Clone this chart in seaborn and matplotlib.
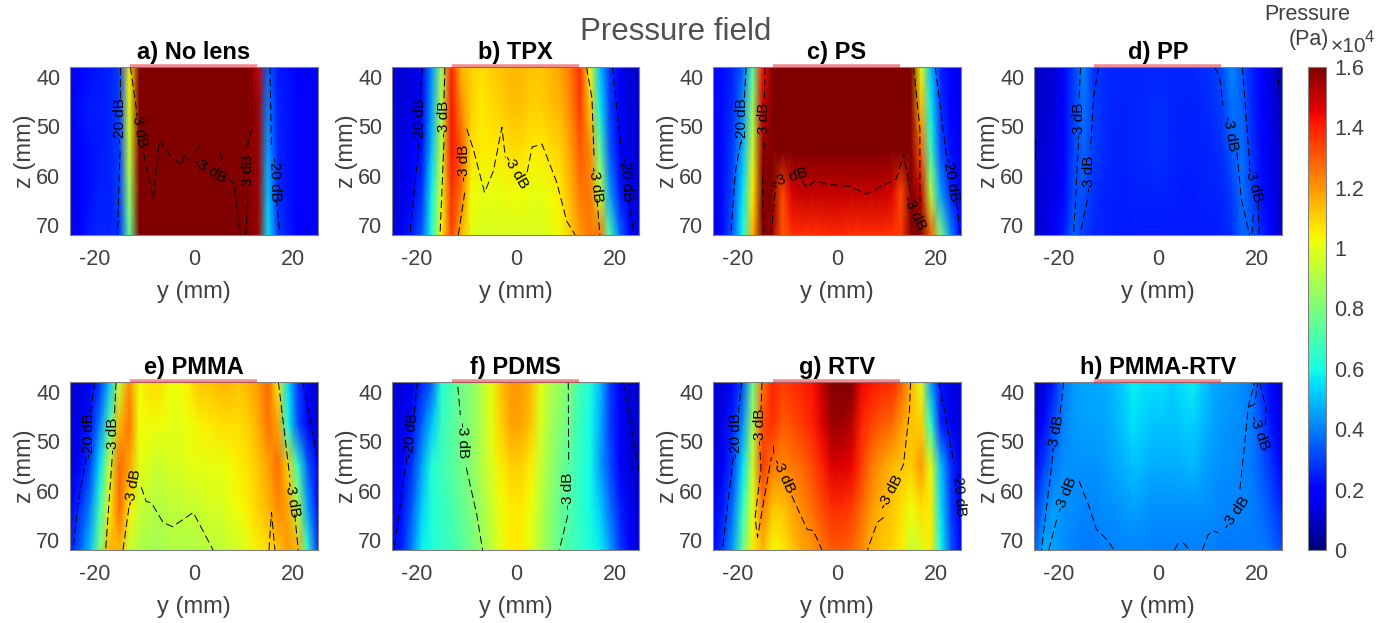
import numpy as np
import matplotlib
matplotlib.use("Agg")
import matplotlib.pyplot as plt
import seaborn as sns

sns.set_style("white")
plt.rcParams['font.family'] = ['Liberation Sans', 'DejaVu Sans']

# field samples in 1e4 Pa, columns y = -25..25 every 2 mm, rows z = 38, 46.5, 55, 63.5, 72
y_mm = [-25, -23, -21, -19, -17, -15, -13, -11, -9, -7, -5, -3, -1, 1, 3, 5, 7, 9, 11, 13, 15, 17, 19, 21, 23, 25]
z_mm = [38, 46.5, 55, 63.5, 72]

field_a = [
    [.18, .19, .22, .24, .25, .30, 1.05, 2.6, 2, 2, 2, 2, 2, 2, 2, 2, 2, 2, 2.2, 1.50, .35, .24, .22, .20, .19, .18],
    [.20, .22, .24, .24, .25, .30, 1.00, 2.4, 2, 2, 2, 2, 2, 2, 2, 2, 2, 2, 2.2, 1.55, .40, .25, .23, .20, .20, .18],
    [.20, .20, .22, .24, .25, .30, .95, 2.2, 2, 2, 2, 2, 2, 2, 2, 2, 2, 2, 2.2, 1.55, .45, .26, .23, .20, .19, .18],
    [.18, .20, .22, .25, .25, .30, .85, 1.95, 2, 2, 2, 2, 2, 2, 2, 2, 2, 2, 2.2, 1.55, .50, .27, .23, .20, .18, .18],
    [.17, .20, .24, .26, .25, .28, .75, 1.75, 2, 2, 2, 2, 2, 2, 2, 2, 2, 2, 2.2, 1.55, .55, .30, .24, .20, .18, .18],
]
field_b = [
    [.12, .12, .13, .17, .42, .88, 1.40, 1.15, 1.10, 1.08, 1.10, 1.12, 1.15, 1.15, 1.12, 1.12, 1.15, 1.18, 1.25, 1.38, 1.00, .50, .28, .17, .12, .10],
    [.12, .13, .15, .20, .45, .92, 1.42, 1.22, 1.10, 1.06, 1.08, 1.10, 1.13, 1.13, 1.10, 1.10, 1.13, 1.15, 1.22, 1.35, 1.12, .58, .30, .18, .13, .10],
    [.12, .14, .17, .22, .50, .95, 1.42, 1.30, 1.08, 1.05, 1.06, 1.06, 1.08, 1.08, 1.05, 1.05, 1.08, 1.10, 1.18, 1.30, 1.22, .75, .34, .20, .14, .10],
    [.11, .15, .20, .28, .58, 1.00, 1.38, 1.25, 1.03, 1.01, 1.01, 1.01, 1.03, 1.03, 1.01, 1.01, 1.03, 1.06, 1.15, 1.25, 1.25, .95, .45, .24, .15, .11],
    [.10, .17, .24, .34, .62, 1.05, 1.35, 1.15, 1.01, .98, .98, .98, .98, .98, .98, .98, 1.00, 1.03, 1.10, 1.20, 1.25, 1.25, .70, .38, .20, .12],
]
field_c = [
    [.20, .22, .25, .35, .72, 1.42, 2.2, 2.2, 2.2, 2.2, 2.2, 2.2, 2.2, 2.2, 2.2, 2.2, 2.2, 2.2, 2.2, 2.2, 1.75, 1.00, .50, .25, .20, .15],
    [.20, .22, .27, .42, .85, 1.50, 2.2, 2.2, 2.2, 2.2, 2.2, 2.2, 2.2, 2.2, 2.2, 2.2, 2.2, 2.2, 2.2, 2.2, 1.85, 1.15, .58, .28, .20, .16],
    [.17, .22, .30, .48, .95, 1.55, 1.90, 1.65, 1.75, 1.80, 1.80, 1.80, 1.80, 1.80, 1.80, 1.80, 1.80, 1.80, 1.80, 1.65, 1.85, 1.30, .68, .32, .22, .16],
    [.15, .22, .32, .55, 1.05, 1.62, 1.70, 1.33, 1.48, 1.50, 1.50, 1.50, 1.50, 1.50, 1.50, 1.50, 1.50, 1.50, 1.48, 1.33, 1.70, 1.50, .90, .45, .26, .17],
    [.13, .22, .35, .60, 1.15, 1.65, 1.55, 1.30, 1.38, 1.38, 1.37, 1.38, 1.39, 1.39, 1.37, 1.38, 1.38, 1.38, 1.37, 1.36, 1.60, 1.70, 1.30, .80, .42, .20],
]
field_d = [
    [.10, .10, .12, .18, .30, .40, .28, .27, .26, .26, .26, .26, .26, .26, .26, .26, .26, .27, .28, .32, .42, .33, .25, .20, .13, .09],
    [.11, .11, .13, .18, .30, .38, .30, .27, .26, .25, .26, .26, .27, .27, .26, .25, .25, .26, .27, .30, .38, .36, .26, .20, .14, .09],
    [.11, .12, .14, .19, .31, .36, .30, .27, .25, .25, .26, .26, .27, .27, .26, .25, .25, .25, .26, .28, .34, .38, .28, .21, .15, .10],
    [.11, .13, .15, .21, .32, .33, .28, .26, .25, .24, .25, .25, .25, .25, .25, .24, .24, .25, .25, .26, .30, .38, .31, .22, .16, .10],
    [.12, .13, .17, .24, .36, .30, .26, .25, .24, .24, .24, .24, .24, .24, .24, .24, .24, .24, .24, .25, .27, .36, .35, .25, .17, .11],
]
field_e = [
    [.12, .13, .17, .28, .50, .95, 1.22, 1.03, 1.08, 1.08, 1.03, 1.02, 1.05, 1.12, 1.12, 1.15, 1.15, 1.12, 1.15, 1.20, 1.28, 1.05, .55, .30, .17, .10],
    [.12, .16, .23, .40, .72, 1.15, 1.25, 1.02, 1.03, 1.02, 1.00, 1.00, 1.02, 1.04, 1.05, 1.07, 1.08, 1.08, 1.10, 1.16, 1.26, 1.18, .60, .32, .18, .12],
    [.12, .20, .30, .55, .95, 1.28, 1.18, 1.00, .98, .95, .98, .98, 1.00, 1.00, 1.01, 1.01, 1.02, 1.05, 1.07, 1.12, 1.18, 1.27, 1.10, .65, .35, .18],
    [.18, .27, .40, .68, 1.05, 1.28, 1.05, .95, .92, .90, .93, .93, .95, .95, .97, .97, 1.00, 1.02, 1.05, 1.10, 1.15, 1.22, 1.18, .90, .45, .22],
    [.25, .35, .50, .80, 1.15, 1.15, .95, .90, .88, .88, .90, .90, .90, .90, .92, .92, .95, .97, 1.00, 1.05, 1.08, 1.12, 1.20, 1.15, .65, .30],
]
field_f = [
    [.12, .12, .15, .25, .35, .62, .70, .78, .82, .90, 1.00, 1.12, 1.20, 1.20, 1.15, 1.00, .90, .85, .80, .68, .62, .50, .30, .17, .12, .10],
    [.13, .16, .22, .35, .50, .66, .72, .78, .82, .90, 1.00, 1.10, 1.18, 1.18, 1.12, .98, .88, .82, .76, .66, .60, .48, .30, .18, .12, .10],
    [.15, .20, .28, .45, .62, .68, .72, .78, .82, .90, .98, 1.05, 1.10, 1.10, 1.05, .95, .85, .78, .72, .65, .60, .45, .32, .20, .13, .10],
    [.18, .22, .34, .52, .62, .66, .70, .75, .80, .87, .95, 1.02, 1.06, 1.06, 1.02, .92, .83, .76, .71, .65, .60, .52, .38, .25, .16, .11],
    [.20, .25, .40, .58, .62, .65, .68, .72, .78, .85, .92, 1.00, 1.05, 1.05, 1.00, .90, .82, .75, .70, .65, .62, .58, .45, .30, .20, .13],
]
field_g = [
    [.12, .13, .20, .32, .75, 1.25, 1.40, 1.35, 1.37, 1.40, 1.42, 1.50, 1.62, 1.62, 1.60, 1.45, 1.42, 1.40, 1.40, 1.30, 1.15, 1.00, .45, .22, .15, .12],
    [.12, .15, .25, .42, .88, 1.32, 1.38, 1.30, 1.32, 1.36, 1.40, 1.46, 1.56, 1.56, 1.52, 1.40, 1.34, 1.30, 1.28, 1.20, 1.12, 1.10, .65, .25, .17, .13],
    [.13, .18, .30, .55, .95, 1.35, 1.25, 1.22, 1.25, 1.28, 1.33, 1.40, 1.47, 1.47, 1.45, 1.35, 1.25, 1.20, 1.15, 1.12, 1.10, 1.20, 1.00, .50, .28, .15],
    [.16, .24, .38, .65, 1.00, 1.25, 1.12, 1.12, 1.18, 1.22, 1.27, 1.33, 1.38, 1.38, 1.35, 1.28, 1.20, 1.15, 1.12, 1.08, 1.02, 1.08, 1.05, .55, .30, .16],
    [.20, .30, .45, .75, 1.05, 1.15, 1.03, 1.05, 1.12, 1.17, 1.20, 1.25, 1.30, 1.30, 1.28, 1.22, 1.15, 1.12, 1.10, 1.05, .95, .98, 1.05, .60, .35, .18],
]
field_h = [
    [.10, .13, .24, .39, .44, .46, .46, .47, .49, .52, .58, .56, .55, .55, .52, .55, .58, .52, .47, .45, .44, .42, .39, .28, .19, .12],
    [.14, .21, .32, .41, .44, .45, .45, .46, .48, .51, .55, .53, .51, .51, .50, .52, .53, .49, .46, .44, .43, .42, .39, .32, .22, .15],
    [.19, .30, .39, .43, .43, .43, .43, .44, .46, .48, .50, .49, .47, .47, .47, .48, .49, .46, .44, .43, .42, .41, .39, .34, .28, .19],
    [.28, .39, .45, .43, .42, .41, .41, .42, .43, .44, .45, .44, .43, .43, .43, .43, .43, .43, .42, .41, .41, .41, .40, .37, .32, .26],
    [.35, .47, .45, .42, .40, .39, .39, .40, .40, .41, .41, .41, .40, .40, .40, .40, .40, .40, .40, .39, .39, .39, .39, .39, .37, .32],
]

titles = ["a) No lens", "b) TPX", "c) PS", "d) PP", "e) PMMA", "f) PDMS", "g) RTV", "h) PMMA-RTV"]
lens_span = [-12.8, 12.8]

# dashed contour pieces as (y, z) in mm
lines_a = [
    [(-15, 38), (-15, 45)], [(-14.9, 55), (-15.4, 72)],
    [(-12.8, 38), (-11.6, 46.4)],
    [(-10.1, 55.6), (-8.2, 64.7), (-6.9, 52.9), (-4.9, 55.8), (-2.5, 57.8), (-1.8, 55.9), (-1, 56.6)],
    [(1.2, 54), (.5, 54.9)], [(5.3, 55.3), (6.1, 58)],
    [(7, 60.7), (8.3, 61.7), (8.3, 63.4), (9.4, 72)],
    [(10.5, 72), (11, 64.7)], [(10.8, 54.2), (11.7, 50.5), (11.7, 38)],
    [(15.4, 38), (15.7, 54.6)], [(16.7, 64.7), (17.4, 72)],
]
lines_b = [
    [(-18.8, 38), (-19.5, 44.7)], [(-19.5, 53.2), (-21.4, 72)],
    [(-14.3, 38), (-14.5, 44.7)], [(-14.5, 53.2), (-15.3, 72)],
    [(-11.6, 72), (-10.2, 62.7)],
    [(-9.9, 50.5), (-8.5, 54.9), (-6.3, 63.4), (-4.5, 59), (-2.8, 50.2), (-2.1, 56.3)],
    [(2.3, 59.3), (3.3, 54.2), (5.3, 53.6), (8.3, 61.4), (10.3, 69.2), (12, 72)],
    [(14.3, 38), (15.4, 44.4), (15.8, 55.9)], [(16.4, 64.7), (17, 72)],
    [(19.5, 38), (19.8, 40.3), (21.5, 56.3)], [(22.8, 64.7), (23.9, 72)],
]
lines_c = [
    [(-18.3, 38), (-18.7, 44.7)], [(-19.4, 53.2), (-20.5, 59.3), (-21.4, 72)],
    [(-14.5, 38), (-14.6, 44.7)], [(-14.6, 53.2), (-15, 62), (-14.8, 70), (-14.5, 72)],
    [(-13.3, 72), (-12.3, 62), (-14.1, 62)],
    [(-7, 61), (-6, 62.4), (-4.4, 61), (-2, 61.7), (2.7, 62.2), (6, 63.7), (9.5, 61.9), (12, 60.7), (13.5, 55.6), (14.4, 60.7), (14.8, 63)],
    [(15.5, 38), (16.8, 50.5), (16.8, 66.8)],
    [(19.9, 38), (22.2, 56.3)], [(24.2, 65.4), (25, 72)],
]
lines_d = [
    [(-15.6, 38), (-15.9, 44.5)], [(-16, 53.3), (-17, 72)],
    [(-12, 38), (-12.9, 43.8), (-13.6, 54.6)], [(-14.2, 64.8), (-15.7, 72)],
    [(11.5, 38), (12.5, 40), (13.2, 45.8)], [(16, 55.3), (16.9, 64.8), (18.3, 70.9), (18.6, 72)],
    [(17.1, 38), (18.3, 54), (18.6, 58)], [(20.3, 65.5), (20.5, 72)], [(19.3, 67.9), (19, 72)],
    [(24.6, 38), (24.2, 44.1)], [(-24.7, 52.6), (-24.7, 57.4)],
]
lines_e = [
    [(-20, 38), (-20.9, 44.5)], [(-21.7, 53.2), (-23.4, 62.7), (-24.4, 72)],
    [(-15.7, 38), (-16, 44.5)], [(-16.5, 53.6), (-17.8, 72)],
    [(-14.3, 72), (-13, 62.7)],
    [(-10.6, 59.3), (-9.6, 62.2), (-8.6, 62.4), (-6.2, 66.4), (-4.3, 67.3), (-.1, 64.4), (3.9, 72)],
    [(15.2, 72), (15.7, 64.4), (16.4, 72)],
    [(17.1, 38), (19.4, 57.3)], [(20.4, 64.7), (21.1, 72)],
    [(22, 38), (24.8, 52.5)],
]
lines_f = [
    [(-19.9, 38), (-20.5, 44.5)], [(-22, 53.2), (-24.6, 72)],
    [(-11.7, 39), (-11.2, 44.7)], [(-10, 55.3), (-7.9, 64.7), (-6.7, 72)],
    [(10.6, 38), (10.7, 54.6)], [(10.5, 65), (8.8, 72)],
    [(21.7, 38), (24.9, 56)],
]
lines_g = [
    [(-19.2, 38), (-19.9, 44.7)], [(-20.9, 53.2), (-23.1, 72)],
    [(-15.1, 38), (-15.3, 43.7)], [(-15.5, 52.2), (-15.3, 55.6), (-16.5, 65.4), (-16, 69.5), (-15.1, 64.1), (-13.2, 53.2)],
    [(-12.8, 50.9), (-12.7, 53.2)],
    [(-9.1, 61), (-6, 67.8), (-4.7, 68.1), (-3, 72)],
    [(14.9, 38), (14.7, 43.7), (13.5, 54.6), (12.9, 56)], [(9.5, 65.4), (8.2, 66.4), (6.2, 72)],
    [(20.6, 38), (21.6, 43), (23.7, 54.6)],
]
lines_h = [
    [(-19, 38), (-19.8, 45)], [(-21.2, 53), (-23.5, 72)],
    [(-22, 72), (-20.2, 65)],
    [(-15.9, 58), (-13.8, 63.4), (-12.4, 67.8), (-10, 70.2), (-8.8, 72)],
    [(3.4, 72), (4.3, 70.2)], [(5.1, 70.5), (6.5, 72)],
    [(9, 72), (10.2, 68.9), (11.2, 68.1), (12.2, 68.5)],
    [(16.6, 59.7), (17.9, 47.2), (18.3, 43), (19.6, 38)],
    [(21.7, 46.7), (21.9, 43.4), (20.6, 38)], [(18.4, 43), (19.6, 42.5), (20.2, 38)],
]

# contour labels: text, y, z, rotation
labels_a = [("-20 dB", -14.8, 48.8, 90), ("-3 dB", -11, 50.5, -80), ("-3 dB", 3.2, 58.8, -32), ("-3 dB", 11, 59.5, 90), ("-20 dB", 16.4, 60.7, -88)]
labels_b = [("-20 dB", -19.3, 48.8, 90), ("-3 dB", -14.5, 48.5, 90), ("-3 dB", -10.4, 57.3, 90), ("-3 dB", -.1, 59.3, -60), ("-3 dB", 16.1, 61.7, -82), ("-20 dB", 22.2, 60.7, -85)]
labels_c = [("-20 dB", -19.2, 48.8, 90), ("-3 dB", -14.6, 48.8, 90), ("-3 dB", -9.4, 60.3, 18), ("-3 dB", 15.6, 67.5, -65), ("-20 dB", 23, 60.7, -80)]
labels_d = [("-3 dB", -15.9, 48.9, 90), ("-3 dB", -13.9, 59.7, 90), ("-3 dB", 14.6, 51.3, -80), ("-3 dB", 19.3, 61.8, -75)]
labels_e = [("-20 dB", -21.2, 48.8, 90), ("-3 dB", -16.3, 48.8, 90), ("-3 dB", -12.3, 59.3, 80), ("-3 dB", 19.8, 61.7, -80)]
labels_f = [("-20 dB", -21.2, 48.8, 85), ("-3 dB", -10.7, 49.8, -88), ("-3 dB", 10.6, 60, 90)]
labels_g = [("-20 dB", -20.4, 48.8, 90), ("-3 dB", -15.5, 47.1, 90), ("-3 dB", -10.8, 57, -65), ("-3 dB", 10.9, 60.3, 62), ("-20 dB", 24.7, 60.7, -85)]
labels_h = [("-3 dB", -20.5, 48.5, 80), ("-3 dB", -18.5, 60.7, 68), ("-3 dB", 15.9, 64.4, 55), ("-3 dB", 20.4, 48.2, -70)]

fields = [field_a, field_b, field_c, field_d, field_e, field_f, field_g, field_h]
all_lines = [lines_a, lines_b, lines_c, lines_d, lines_e, lines_f, lines_g, lines_h]
all_labels = [labels_a, labels_b, labels_c, labels_d, labels_e, labels_f, labels_g, labels_h]

W, H = 1392, 623
left_px = [70, 392, 713, 1034]
top_px = [67, 382]
panel_w, panel_h = 247.5, 168
text_col = '#404040'


def to_col(v):
    return (np.asarray(v, dtype=float) - y_mm[0]) / (y_mm[1] - y_mm[0])


def to_row(v):
    return (np.asarray(v, dtype=float) - z_mm[0]) / (z_mm[1] - z_mm[0])


def box(x, y, w, h):
    return [x / W, 1 - (y + h) / H, w / W, h / H]


fig = plt.figure(figsize=(W / 100, H / 100), dpi=100)
cax = fig.add_axes(box(1308, 67, 18, 483))

for i in range(8):
    ax = fig.add_axes(box(left_px[i % 4], top_px[i // 4], panel_w, panel_h))
    sns.heatmap(np.array(fields[i]), ax=ax, cmap='jet', vmin=0, vmax=1.6, shading='gouraud',
                cbar=i == 7, cbar_ax=cax if i == 7 else None, xticklabels=False, yticklabels=False)
    ax.set_xlim(0, len(y_mm) - 1)
    ax.set_ylim(len(z_mm) - 1, 0)

    for piece in all_lines[i]:
        ys, zs = zip(*piece)
        ax.plot(to_col(ys), to_row(zs), color='black', lw=0.7, ls=(0, (8, 4)), solid_capstyle='butt')
    for txt, y, z, rot in all_labels[i]:
        ax.text(to_col(y), to_row(z), txt, fontsize=11, rotation=rot, ha='center', va='center', color='black')

    ax.plot(to_col(lens_span), to_row([37.85, 37.85]), color='#e8202a', alpha=0.5, lw=2.6, clip_on=False,
            solid_capstyle='butt', zorder=5)

    ax.set_xticks(to_col([-20, 0, 20]))
    ax.set_xticklabels(['-20', '0', '20'], fontsize=15.5, color=text_col, rotation=0)
    ax.set_yticks(to_row([40, 50, 60, 70]))
    ax.set_yticklabels(['40', '50', '60', '70'], fontsize=15.5, color=text_col, rotation=0)
    ax.tick_params(axis='both', direction='in', length=2.5, width=0.6, color='#404040',
                   bottom=True, left=True, top=True)
    ax.tick_params(axis='x', pad=10)
    ax.tick_params(axis='y', pad=7)
    ax.set_xlabel('y (mm)', fontsize=17, color=text_col, labelpad=8)
    ax.set_ylabel('z (mm)', fontsize=17, color=text_col, labelpad=0)
    ax.set_title(titles[i], fontsize=17, fontweight='bold', color='black', pad=5.5)
    for s in ax.spines.values():
        s.set_visible(True)
        s.set_color('#808080')
        s.set_linewidth(0.8)

cbar = fig.axes[-1].collections[0].colorbar
cbar.set_ticks([0, .2, .4, .6, .8, 1, 1.2, 1.4, 1.6])
cbar.set_ticklabels(['0', '0.2', '0.4', '0.6', '0.8', '1', '1.2', '1.4', '1.6'])
cbar.ax.tick_params(labelsize=15.5, labelcolor=text_col, length=2.5, width=0.6, direction='in', color='#404040', pad=6)
cbar.outline.set_visible(True)
cbar.outline.set_edgecolor('#808080')
cbar.outline.set_linewidth(0.8)

fig.text(676 / W, 1 - 32 / H, 'Pressure field', fontsize=22.5, color='#505050', ha='center', va='center')
fig.text(1307 / W, 1 - 14 / H, 'Pressure', fontsize=15.5, color=text_col, ha='center', va='center')
fig.text(1329 / W, 1 - 40 / H, '(Pa)', fontsize=15.5, color=text_col, ha='right', va='center')
fig.text(1331 / W, 1 - 47 / H, '×10', fontsize=15, color=text_col, ha='left', va='center')
fig.text(1365 / W, 1 - 38 / H, '4', fontsize=12, color=text_col, ha='left', va='center')

fig.savefig('out.png', dpi=100)
